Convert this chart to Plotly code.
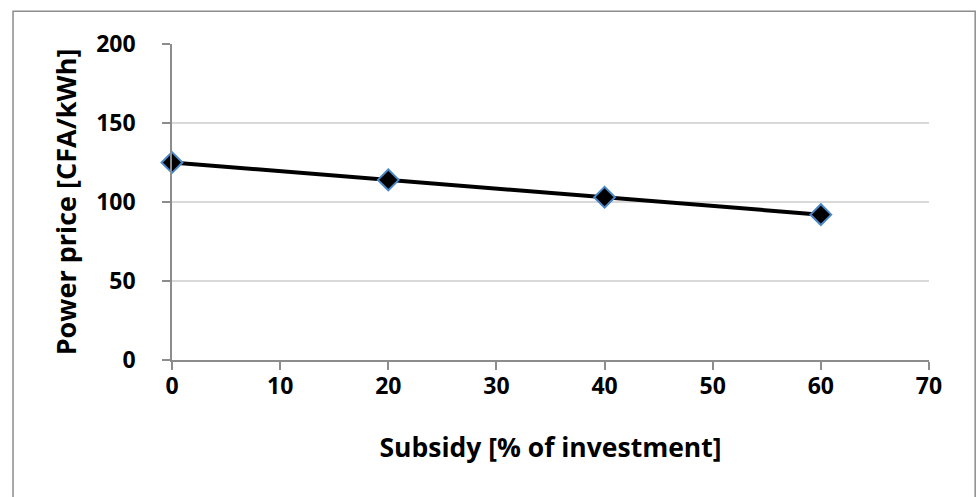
import plotly.graph_objects as go

subsidy = [0, 20, 40, 60]
power_price = [125, 114, 103, 92]
x_ticks = [0, 10, 20, 30, 40, 50, 60, 70]
y_ticks = [0, 50, 100, 150, 200]

fig = go.Figure()
fig.add_trace(go.Scatter(
    x=subsidy, y=power_price, mode="lines+markers",
    line=dict(color="black", width=4),
    marker=dict(symbol="diamond", size=16, color="black",
                line=dict(color="#4a86c8", width=2)),
    cliponaxis=False,
    showlegend=False,
))

font_fam = "Open Sans"
fig.update_layout(
    width=979, height=497,
    margin=dict(l=172, r=50, t=44, b=137),
    plot_bgcolor="white", paper_bgcolor="white",
    font=dict(family=font_fam, color="black"),
)
fig.update_xaxes(
    range=[0, 70], tickvals=x_ticks, showgrid=False, zeroline=False,
    showline=True, linecolor="#8c8c8c", linewidth=1.5,
    ticks="outside", ticklen=8, tickcolor="#8c8c8c", tickwidth=1.5,
    ticklabelstandoff=-3,
    tickfont=dict(size=23, family=font_fam, weight="bold"),
    title=dict(text="Subsidy [% of investment]", standoff=38,
               font=dict(size=26.5, family=font_fam, weight="bold")),
)
fig.update_yaxes(
    range=[0, 200], tickvals=y_ticks, showgrid=True, gridcolor="#d9d9d9",
    gridwidth=1.5, zeroline=False,
    showline=True, linecolor="#8c8c8c", linewidth=1.5,
    ticks="outside", ticklen=8, tickcolor="#8c8c8c", tickwidth=1.5,
    ticklabelstandoff=22,
    tickfont=dict(size=23, family=font_fam, weight="bold"),
    title=dict(text="Power price [CFA/kWh]", standoff=12,
               font=dict(size=27, family=font_fam, weight="bold")),
)
# outer chart border
fig.add_shape(type="rect", xref="paper", yref="paper",
              x0=-0.21, x1=1.061, y0=-0.6, y1=1.104,
              line=dict(color="#8c8c8c", width=1.5))

fig.write_html("out.html", config={"displayModeBar": False},
               post_script="document.body.style.margin='0';"
                           "document.body.style.overflow='hidden';")
